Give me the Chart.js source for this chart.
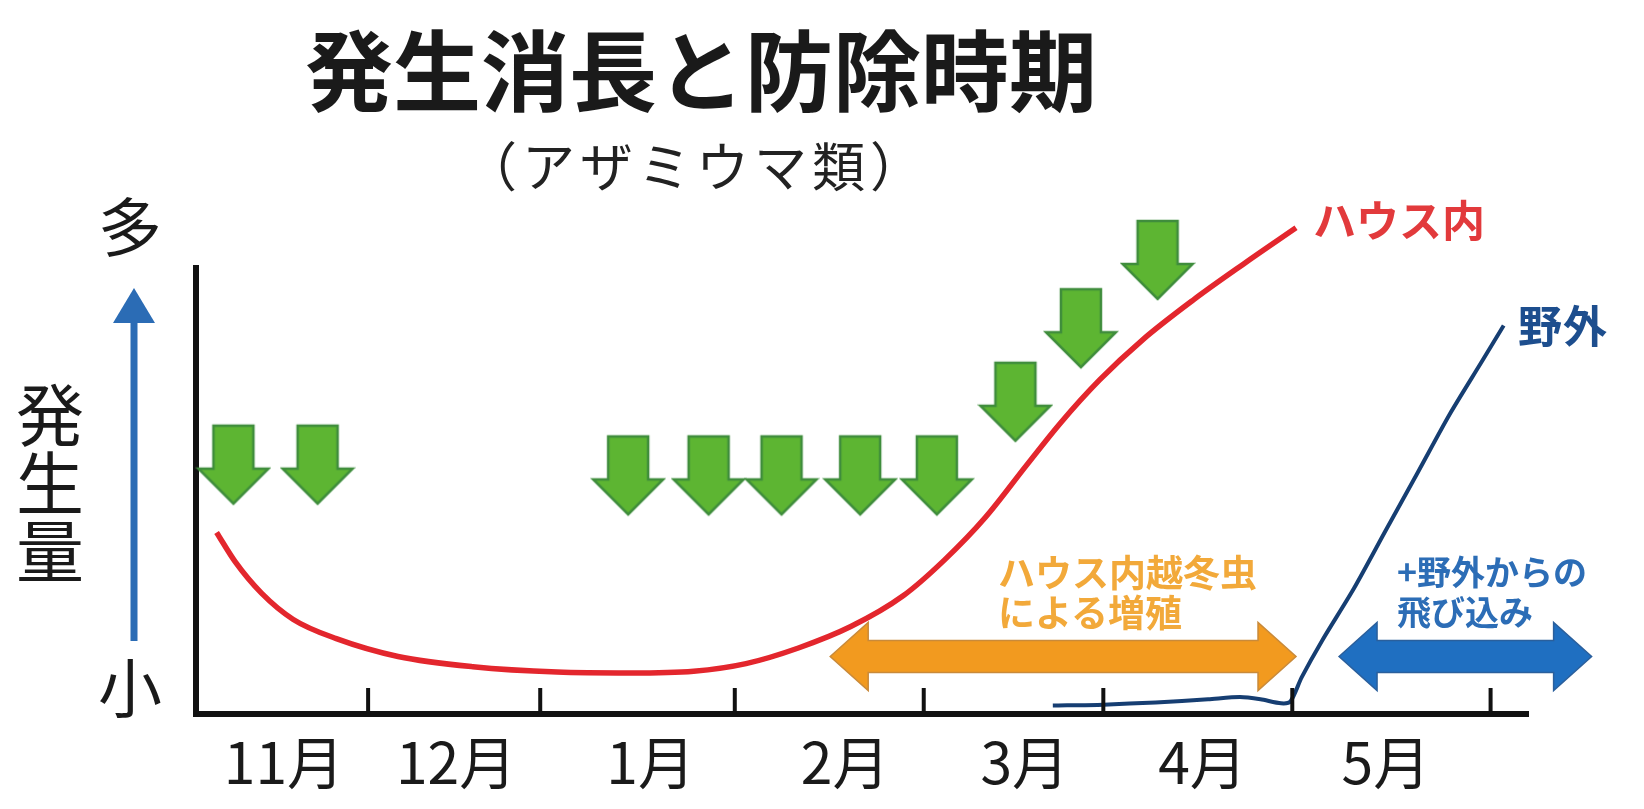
<!DOCTYPE html>
<html lang="ja">
<head>
<meta charset="utf-8">
<script src="https://cdn.jsdelivr.net/npm/chart.js@4.4.0/dist/chart.umd.min.js"></script>
<style>
  html, body { margin: 0; padding: 0; background: #fff; }
  #wrap { position: relative; width: 1644px; height: 809px; overflow: hidden; font-family: 'Noto Sans CJK JP', 'Noto Sans', sans-serif; }
  #wrap canvas { position: absolute; left: 0; top: 0; }
  .txt { position: absolute; white-space: nowrap; line-height: 1; }
  .title { left: 305px; top: 22px; font-size: 88px; font-weight: 700; color: #1a1a1a; }
  .sub { left: 464px; top: 138px; font-size: 53px; color: #222; letter-spacing: 5px; }
  .ylab { left: 16px; top: 378px; font-size: 68px; color: #1a1a1a; width: 72px; line-height: 68px; white-space: normal; }
  .many { left: 98px; top: 191px; font-size: 64px; color: #1a1a1a; }
  .few { left: 98px; top: 652px; font-size: 64px; color: #1a1a1a; }
  .house { left: 1313px; top: 197px; font-size: 43px; font-weight: 700; color: #e23a3c; }
  .field { left: 1518px; top: 302px; font-size: 44px; font-weight: 700; color: #1d4e8e; letter-spacing: 1px; }
  .winter { left: 998px; top: 551px; font-size: 37px; font-weight: 700; color: #f2a93a; line-height: 40px; }
  .inflow { left: 1397px; top: 551px; font-size: 34px; font-weight: 700; color: #2c6db6; line-height: 40px; }
</style>
</head>
<body>
<div id="wrap">
  <canvas id="chart" width="1644" height="809"></canvas>
  <div class="txt title">発生消長と防除時期</div>
  <div class="txt sub">（アザミウマ類）</div>
  <div class="txt many">多</div>
  <div class="txt ylab">発<br>生<br>量</div>
  <div class="txt few">小</div>
  <div class="txt house">ハウス内</div>
  <div class="txt field">野外</div>
  <div class="txt winter">ハウス内越冬虫<br>による増殖</div>
  <div class="txt inflow">+野外からの<br>飛び込み</div>
</div>
<script>
// months on the x axis, 0 = start of November
const monthLabels = ['11月', '12月', '1月', '2月', '3月', '4月', '5月'];
const labelPos = [0.59, 1.51, 2.55, 3.59, 4.55, 5.50, 6.48];
const monthEnds = [1.04, 1.96, 3.00, 4.01, 4.97, 5.98, 7.04];

// ハウス内 (inside the greenhouse)
const houseX = [0.23, 0.33, 0.47, 0.64, 0.87, 1.20, 1.60, 2.05, 2.44, 2.78, 3.06, 3.34, 3.62, 3.90, 4.12, 4.34, 4.56, 4.74, 4.95, 5.18, 5.45, 5.72, 6.00];
const houseY = [40.7, 34.1, 27.1, 21.2, 16.9, 12.9, 10.6, 9.4, 9.2, 9.6, 11.3, 14.8, 19.6, 26.5, 34.5, 44.1, 55.8, 65.2, 74.9, 83.9, 92.8, 100.9, 109.0];

// 野外 (outdoors)
const fieldX = [4.70, 4.97, 5.25, 5.53, 5.70, 5.81, 5.92, 5.97, 6.03, 6.14, 6.31, 6.48, 6.65, 6.82, 6.99, 7.11];
const fieldY = [1.9, 2.1, 2.6, 3.3, 3.8, 3.3, 2.4, 2.8, 8.2, 16.5, 28.2, 41.2, 54.1, 67.1, 78.8, 87.1];

// 防除時期 (spray timings), green arrows
const sprayX = [0.32, 0.77, 2.43, 2.86, 3.25, 3.67, 4.08, 4.50, 4.85, 5.26, 5.71];
const sprayY = [55.9, 55.9, 53.5, 53.5, 53.5, 53.5, 53.5, 70.0, 86.5, 101.8, 114.7];

// period arrows: [from, to, level]
const winterSpan = [3.51, 6.00, 12.9];
const inflowSpan = [6.23, 7.58, 12.9];

const FONT = "'Noto Sans CJK JP', 'Noto Sans', sans-serif";

function makeSprayArrow() {
    const c = document.createElement('canvas');
    c.width = 76;
    c.height = 84;
    const g = c.getContext('2d');
    g.beginPath();
    g.moveTo(18, 3);
    g.lineTo(58, 3);
    g.lineTo(58, 46);
    g.lineTo(73, 46);
    g.lineTo(38, 81);
    g.lineTo(3, 46);
    g.lineTo(18, 46);
    g.closePath();
    g.fillStyle = '#5db532';
    g.fill();
    g.strokeStyle = '#3f8d3c';
    g.lineWidth = 2.5;
    g.stroke();
    return c;
}

function doubleArrow(ctx, x1, x2, y, color, edge) {
    const shaft = 16, head = 34, len = 38;
    ctx.beginPath();
    ctx.moveTo(x1, y);
    ctx.lineTo(x1 + len, y - head);
    ctx.lineTo(x1 + len, y - shaft);
    ctx.lineTo(x2 - len, y - shaft);
    ctx.lineTo(x2 - len, y - head);
    ctx.lineTo(x2, y);
    ctx.lineTo(x2 - len, y + head);
    ctx.lineTo(x2 - len, y + shaft);
    ctx.lineTo(x1 + len, y + shaft);
    ctx.lineTo(x1 + len, y + head);
    ctx.closePath();
    ctx.fillStyle = color;
    ctx.fill();
    ctx.strokeStyle = edge;
    ctx.lineWidth = 1.5;
    ctx.stroke();
}

const decor = {
    id: 'decor',
    beforeDatasetsDraw(chart) {
        const { ctx, scales: { x, y } } = chart;
        ctx.save();
        doubleArrow(ctx, x.getPixelForValue(winterSpan[0]), x.getPixelForValue(winterSpan[1]),
            y.getPixelForValue(winterSpan[2]), '#f29a1f', '#c98a3a');
        doubleArrow(ctx, x.getPixelForValue(inflowSpan[0]), x.getPixelForValue(inflowSpan[1]),
            y.getPixelForValue(inflowSpan[2]), '#1f6fc1', '#2a5f9c');
        ctx.restore();
    },
    afterDraw(chart) {
        const { ctx, chartArea, scales: { x } } = chart;
        ctx.save();
        // month boundary ticks, drawn upward from the axis
        ctx.strokeStyle = '#111';
        ctx.lineWidth = 4;
        monthEnds.forEach(m => {
            const px = x.getPixelForValue(m);
            ctx.beginPath();
            ctx.moveTo(px, chartArea.bottom);
            ctx.lineTo(px, chartArea.bottom - 26);
            ctx.stroke();
        });
        // blue 発生量 arrow left of the axis
        const ax = chartArea.left - 62;
        ctx.fillStyle = '#2b6cb5';
        ctx.fillRect(ax - 3.5, 316, 7, 325);
        ctx.beginPath();
        ctx.moveTo(ax, 288);
        ctx.lineTo(ax + 21, 323);
        ctx.lineTo(ax - 21, 323);
        ctx.closePath();
        ctx.fill();
        ctx.restore();
    }
};

const toPoints = (xs, ys) => xs.map((v, i) => ({ x: v, y: ys[i] }));

new Chart(document.getElementById('chart'), {
    type: 'line',
    data: {
        datasets: [
            {
                label: 'ハウス内',
                data: toPoints(houseX, houseY),
                borderColor: '#e3262d',
                borderWidth: 5.5,
                pointRadius: 0,
                cubicInterpolationMode: 'monotone',
                clip: false,
            },
            {
                label: '野外',
                data: toPoints(fieldX, fieldY),
                borderColor: '#163e72',
                borderWidth: 4,
                pointRadius: 0,
                tension: 0.25,
                clip: false,
            },
            {
                label: '防除時期',
                data: toPoints(sprayX, sprayY),
                showLine: false,
                pointStyle: makeSprayArrow(),
                pointRadius: 32,
                clip: false,
            },
        ],
    },
    options: {
        responsive: false,
        animation: false,
        layout: { padding: { left: 196, right: 116, top: 268, bottom: 0 } },
        plugins: {
            legend: { display: false },
            tooltip: { enabled: false },
        },
        scales: {
            x: {
                type: 'linear',
                min: 0.12,
                max: 7.24,
                afterFit: s => { s.height = 95; },
                afterBuildTicks: s => { s.ticks = labelPos.map(v => ({ value: v })); },
                grid: { display: false, drawTicks: false },
                border: { display: true, color: '#111', width: 6 },
                ticks: {
                    color: '#1a1a1a',
                    font: { family: FONT, size: 57 },
                    padding: 14,
                    maxRotation: 0,
                    autoSkip: false,
                    callback: (v, i) => monthLabels[i],
                },
            },
            y: {
                min: 0,
                max: 100,
                afterFit: s => { s.width = 0; },
                grid: { display: false, drawTicks: false },
                border: { display: true, color: '#111', width: 6 },
                ticks: { display: false },
            },
        },
    },
    plugins: [decor],
});
</script>
</body>
</html>
